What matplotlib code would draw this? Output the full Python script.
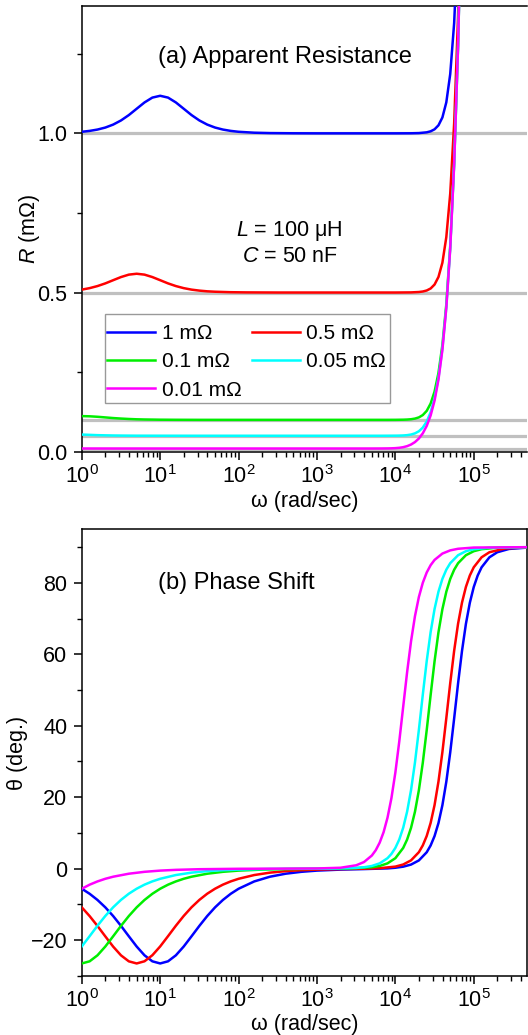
import matplotlib
matplotlib.use("Agg")
import matplotlib.pyplot as plt
from matplotlib.ticker import LogLocator, MultipleLocator, FormatStrFormatter, NullFormatter
from matplotlib.patches import Rectangle
import numpy as np

# ---------------- data: apparent resistance R (mOhm) ----------------
# frequencies are given as log10(omega / (rad/s))
blue_R_logw = [0, 0.1, 0.2, 0.3, 0.4, 0.5, 0.6, 0.7, 0.8, 0.9, 1.0, 1.1, 1.2, 1.3, 1.4,
               1.5, 1.6, 1.7, 1.8, 1.9, 2.0, 2.2, 2.4, 2.7, 3.0, 4.0, 4.2, 4.3, 4.4, 4.45,
               4.5, 4.55, 4.6, 4.65, 4.7, 4.75, 4.8, 4.85]
blue_R = [1.0049, 1.0077, 1.0119, 1.0182, 1.0275, 1.0405, 1.0574, 1.0773, 1.0971, 1.1123,
          1.1180, 1.1123, 1.0971, 1.0773, 1.0574, 1.0405, 1.0275, 1.0182, 1.0119, 1.0077,
          1.0049, 1.0020, 1.0008, 1.0002, 1.0000, 1.0000, 1.0002, 1.0008, 1.0032, 1.0064,
          1.0127, 1.0253, 1.0499, 1.0974, 1.1864, 1.3464, 1.6192, 2.058]

red_R_logw = [0, 0.1, 0.2, 0.3, 0.4, 0.5, 0.6, 0.7, 0.8, 0.9, 1.0, 1.1, 1.2, 1.3, 1.4, 1.5,
              1.6, 1.7, 1.9, 2.1, 2.5, 4.0, 4.2, 4.3, 4.35, 4.4, 4.45, 4.5, 4.55, 4.6, 4.65,
              4.7, 4.75, 4.8, 4.85]
red_R = [0.5091, 0.5138, 0.5203, 0.5287, 0.5387, 0.5486, 0.5562, 0.5590, 0.5562, 0.5486,
         0.5387, 0.5287, 0.5203, 0.5138, 0.5091, 0.5060, 0.5038, 0.5025, 0.5010, 0.5004,
         0.5000, 0.5000, 0.5004, 0.5016, 0.5032, 0.5064, 0.5127, 0.5251, 0.5489, 0.5936,
         0.6740, 0.8108, 1.0310, 1.3682, 1.867]

green_R_logw = [0, 0.1, 0.2, 0.3, 0.4, 0.5, 0.6, 0.7, 0.8, 1.0, 1.2, 1.5, 2.0, 3.9, 4.0,
                4.1, 4.15, 4.2, 4.25, 4.3, 4.35, 4.4, 4.45, 4.5, 4.55, 4.6, 4.65, 4.7, 4.75,
                4.8, 4.85]
green_R = [0.1118, 0.1112, 0.1097, 0.1077, 0.1057, 0.1041, 0.1028, 0.1018, 0.1012, 0.1005,
           0.1002, 0.1000, 0.1000, 0.1000, 0.1001, 0.1005, 0.1010, 0.1020, 0.1040, 0.1078,
           0.1151, 0.1283, 0.1513, 0.1889, 0.2476, 0.3352, 0.4628, 0.6461, 0.9071, 1.2774,
           1.802]

cyan_R_logw = [0, 0.1, 0.2, 0.3, 0.4, 0.5, 0.7, 1.0, 1.5, 3.8, 3.9, 4.0, 4.05, 4.1, 4.15,
               4.2, 4.25, 4.3, 4.35, 4.4, 4.45, 4.5, 4.55, 4.6, 4.65, 4.7, 4.75, 4.8, 4.85]
cyan_R = [0.0539, 0.0529, 0.0520, 0.0514, 0.0509, 0.0506, 0.0502, 0.0501, 0.0500, 0.0500,
          0.0501, 0.0503, 0.0505, 0.0510, 0.0520, 0.0539, 0.0576, 0.0642, 0.0757, 0.0947,
          0.1240, 0.1679, 0.2320, 0.3238, 0.4547, 0.6403, 0.9030, 1.2745, 1.800]

magenta_R_logw = [0, 0.5, 1.0, 3.7, 3.8, 3.9, 3.95, 4.0, 4.05, 4.1, 4.15, 4.2, 4.25, 4.3,
                  4.35, 4.4, 4.45, 4.5, 4.55, 4.6, 4.65, 4.7, 4.75, 4.8, 4.85]
magenta_R = [0.01005, 0.01001, 0.0100, 0.0100, 0.01008, 0.01032, 0.01062, 0.01121, 0.01230,
             0.01423, 0.01744, 0.02252, 0.03021, 0.04149, 0.05776, 0.08097, 0.1139, 0.1606,
             0.2267, 0.3201, 0.4520, 0.6384, 0.9017, 1.2735, 1.799]

# ---------------- data: phase shift theta (deg) ----------------
blue_T_logw = [0, 0.1, 0.2, 0.3, 0.4, 0.5, 0.6, 0.7, 0.8, 0.9, 1.0, 1.1, 1.2, 1.3, 1.4, 1.5,
               1.6, 1.7, 1.8, 1.9, 2.0, 2.2, 2.4, 2.6, 2.8, 3.0, 3.3, 3.6, 3.9, 4.0, 4.1,
               4.2, 4.3, 4.4, 4.45, 4.5, 4.55, 4.6, 4.65, 4.7, 4.75, 4.8, 4.85, 4.9, 4.95,
               5.0, 5.05, 5.1, 5.2, 5.3, 5.45, 5.7]
blue_T = [-5.65, -7.06, -8.79, -10.86, -13.29, -16.04, -18.96, -21.83, -24.29, -25.97,
          -26.57, -25.97, -24.29, -21.83, -18.96, -16.04, -13.29, -10.86, -8.79, -7.06,
          -5.65, -3.60, -2.28, -1.44, -0.91, -0.57, -0.29, -0.14, 0.05, 0.23, 0.53, 1.12,
          2.28, 4.57, 6.47, 9.10, 12.75, 17.74, 24.32, 32.55, 42.04, 51.86, 60.93, 68.52,
          74.43, 78.84, 82.05, 84.36, 87.16, 88.58, 89.50, 89.91]

red_T_logw = [0, 0.1, 0.2, 0.3, 0.4, 0.5, 0.6, 0.7, 0.8, 0.9, 1.0, 1.1, 1.2, 1.3, 1.4, 1.5,
              1.6, 1.7, 1.8, 1.9, 2.0, 2.2, 2.4, 2.6, 2.8, 3.0, 3.3, 3.6, 3.8, 4.0, 4.1,
              4.2, 4.3, 4.35, 4.4, 4.45, 4.5, 4.55, 4.6, 4.65, 4.7, 4.75, 4.8, 4.85, 4.9,
              4.95, 5.0, 5.1, 5.2, 5.4, 5.7]
red_T = [-10.86, -13.31, -16.07, -18.99, -21.85, -24.30, -25.98, -26.57, -25.96, -24.27,
         -21.80, -18.93, -16.01, -13.27, -10.84, -8.77, -7.04, -5.64, -4.50, -3.59, -2.86,
         -1.81, -1.14, -0.72, -0.45, -0.29, -0.14, -0.04, 0.10, 0.55, 1.14, 2.30, 4.59,
         6.49, 9.13, 12.79, 17.78, 24.37, 32.61, 42.11, 51.93, 60.99, 68.57, 74.47, 78.87,
         82.07, 84.37, 87.17, 88.58, 89.64, 89.95]

green_T_logw = [0, 0.1, 0.2, 0.3, 0.4, 0.5, 0.6, 0.7, 0.8, 0.9, 1.0, 1.1, 1.2, 1.3, 1.4,
                1.6, 1.8, 2.0, 2.3, 2.6, 3.0, 3.4, 3.7, 3.8, 3.9, 4.0, 4.1, 4.15, 4.2, 4.25,
                4.3, 4.35, 4.4, 4.45, 4.5, 4.55, 4.6, 4.65, 4.7, 4.75, 4.8, 4.9, 5.0, 5.1,
                5.3, 5.7]
green_T = [-26.57, -25.97, -24.29, -21.83, -18.96, -16.04, -13.29, -10.86, -8.79, -7.06,
           -5.65, -4.51, -3.60, -2.86, -2.28, -1.44, -0.91, -0.57, -0.29, -0.14, -0.06,
           0.02, 0.37, 0.73, 1.46, 2.90, 5.78, 8.13, 11.41, 15.91, 21.94, 29.64, 38.78,
           48.62, 58.04, 66.18, 72.64, 77.52, 81.10, 83.67, 85.51, 87.75, 88.87, 89.43,
           89.86, 89.99]

cyan_T_logw = [0, 0.1, 0.2, 0.3, 0.4, 0.5, 0.6, 0.7, 0.8, 0.9, 1.0, 1.2, 1.4, 1.6, 1.8,
               2.0, 2.4, 2.8, 3.2, 3.5, 3.6, 3.7, 3.8, 3.9, 3.95, 4.0, 4.05, 4.1, 4.15, 4.2,
               4.25, 4.3, 4.35, 4.4, 4.45, 4.5, 4.55, 4.6, 4.65, 4.7, 4.8, 4.9, 5.0, 5.2,
               5.7]
cyan_T = [-21.80, -18.93, -16.01, -13.27, -10.84, -8.77, -7.04, -5.64, -4.50, -3.59, -2.86,
          -1.81, -1.14, -0.72, -0.45, -0.29, -0.11, -0.05, 0.00, 0.18, 0.37, 0.73, 1.46,
          2.91, 4.11, 5.79, 8.15, 11.44, 15.95, 21.98, 29.69, 38.85, 48.69, 58.11, 66.22,
          72.68, 77.55, 81.12, 83.69, 85.52, 87.75, 88.87, 89.43, 89.86, 90.00]

magenta_T_logw = [0, 0.1, 0.2, 0.3, 0.4, 0.6, 0.8, 1.0, 1.2, 1.5, 2.0, 2.5, 3.0, 3.3, 3.5,
                  3.6, 3.7, 3.75, 3.8, 3.85, 3.9, 3.95, 4.0, 4.05, 4.1, 4.15, 4.2, 4.25, 4.3,
                  4.35, 4.4, 4.45, 4.5, 4.6, 4.7, 4.8, 5.0, 5.7]
magenta_T = [-5.65, -4.51, -3.60, -2.86, -2.28, -1.44, -0.91, -0.57, -0.36, -0.18, -0.06,
             -0.02, 0.03, 0.23, 0.92, 1.83, 3.65, 5.15, 7.26, 10.20, 14.26, 19.74, 26.89,
             35.61, 45.33, 55.01, 63.64, 70.67, 76.05, 80.03, 82.91, 84.96, 86.43, 88.21,
             89.10, 89.55, 89.89, 90.00]

series_labels = ["1 m\u03a9", "0.5 m\u03a9", "0.1 m\u03a9", "0.05 m\u03a9", "0.01 m\u03a9"]
series_colors = ["#0000ff", "#ff0000", "#00ee00", "#00ffff", "#ff00ff"]
reference_R = [1.0, 0.5, 0.1, 0.05, 0.01]

R_curves = [(blue_R_logw, blue_R), (red_R_logw, red_R), (green_R_logw, green_R),
            (cyan_R_logw, cyan_R), (magenta_R_logw, magenta_R)]
T_curves = [(blue_T_logw, blue_T), (red_T_logw, red_T), (green_T_logw, green_T),
            (cyan_T_logw, cyan_T), (magenta_T_logw, magenta_T)]

# ---------------- style ----------------
FS = 15.5
plt.rcParams.update({
    "font.family": ["Liberation Sans", "DejaVu Sans"],
    "mathtext.fontset": "custom",
    "mathtext.rm": "Liberation Sans",
    "mathtext.it": "Liberation Sans:italic",
    "mathtext.bf": "Liberation Sans:bold",
    "font.size": FS,
    "axes.linewidth": 1.1,
    "xtick.major.size": 5.5,
    "xtick.minor.size": 3.5,
    "ytick.major.size": 5.5,
    "ytick.minor.size": 3.5,
    "xtick.major.width": 1.1,
    "xtick.minor.width": 1.0,
    "ytick.major.width": 1.1,
    "ytick.minor.width": 1.0,
    "xtick.direction": "out",
    "ytick.direction": "out",
    "xtick.labelsize": FS,
    "ytick.labelsize": FS,
})

fig = plt.figure(figsize=(5.28, 10.35), dpi=100)
ax1 = fig.add_axes([0.15492, 0.56357, 0.8428, 0.43063])
ax2 = fig.add_axes([0.15492, 0.05729, 0.8428, 0.4313])

x_lo, x_hi = 1.0, 4.75e5
LINE_W = 1.8


def style_log_x(ax):
    ax.set_xscale("log")
    ax.set_xlim(x_lo, x_hi)
    ax.xaxis.set_major_locator(LogLocator(base=10, numticks=20))
    ax.xaxis.set_minor_locator(LogLocator(base=10, subs=np.arange(2, 10), numticks=20))
    ax.xaxis.set_minor_formatter(NullFormatter())
    ax.tick_params(which="both", top=False, right=False)
    ax.tick_params(axis="x", which="major", pad=4.5)
    ax.tick_params(axis="y", which="major", pad=5)


# ---------------- (a) apparent resistance ----------------
for v in reference_R:
    ax1.axhline(v, color="#c0c0c0", lw=2.3, zorder=1)

handles = []
for (lw_, vals), col, lab in zip(R_curves, series_colors, series_labels):
    h, = ax1.plot(10 ** np.asarray(lw_), vals, color=col, lw=LINE_W, label=lab,
                  solid_joinstyle="round", zorder=3)
    handles.append(h)

style_log_x(ax1)
ax1.set_ylim(0, 1.4)
ax1.yaxis.set_major_locator(MultipleLocator(0.5))
ax1.yaxis.set_minor_locator(MultipleLocator(0.25))
ax1.yaxis.set_major_formatter(FormatStrFormatter("%.1f"))
ax1.spines["right"].set_visible(False)

ax1.set_xlabel("\u03c9 (rad/sec)", fontsize=FS)
ax1.xaxis.set_label_coords(0.5, -0.088)
ax1.set_ylabel("$R$ (m\u03a9)", fontsize=FS)
ax1.yaxis.set_label_coords(-0.089, 0.5)

ax1.text(0.456, 0.886, "(a) Apparent Resistance", transform=ax1.transAxes,
         ha="center", va="center", fontsize=17)
ax1.text(0.467, 0.495, "$L$ = 100 \u03bcH", transform=ax1.transAxes,
         ha="center", va="center", fontsize=FS)
ax1.text(0.4675, 0.4375, "$C$ = 50 nF", transform=ax1.transAxes,
         ha="center", va="center", fontsize=FS)

# legend frame drawn separately so its padding can differ per side
ax1.add_patch(Rectangle((0.0515, 0.1099), 0.6411, 0.1984, transform=ax1.transAxes,
                        facecolor="white", edgecolor="#999999", lw=1.0, zorder=4))
order = [0, 2, 4, 1, 3]
leg = ax1.legend([handles[i] for i in order], [series_labels[i] for i in order],
                 ncol=2, loc="upper left", bbox_to_anchor=(0.0566, 0.2867),
                 borderaxespad=0, frameon=False, fontsize=15, handlelength=2.3,
                 handletextpad=0.32, columnspacing=0.5, labelspacing=0.45,
                 borderpad=0)
leg.set_zorder(5)

# ---------------- (b) phase shift ----------------
for (lw_, vals), col in zip(T_curves, series_colors):
    ax2.plot(10 ** np.asarray(lw_), vals, color=col, lw=LINE_W,
             solid_joinstyle="round", zorder=3)

style_log_x(ax2)
ax2.set_ylim(-30, 95)
ax2.yaxis.set_major_locator(MultipleLocator(20))
ax2.yaxis.set_minor_locator(MultipleLocator(10))

ax2.set_xlabel("\u03c9 (rad/sec)", fontsize=FS)
ax2.xaxis.set_label_coords(0.5, -0.086)
ax2.set_ylabel("\u03b8 (deg.)", fontsize=FS)
ax2.yaxis.set_label_coords(-0.121, 0.5)

ax2.text(0.347, 0.879, "(b) Phase Shift", transform=ax2.transAxes,
         ha="center", va="center", fontsize=17)

fig.savefig("out.png", dpi=100)
